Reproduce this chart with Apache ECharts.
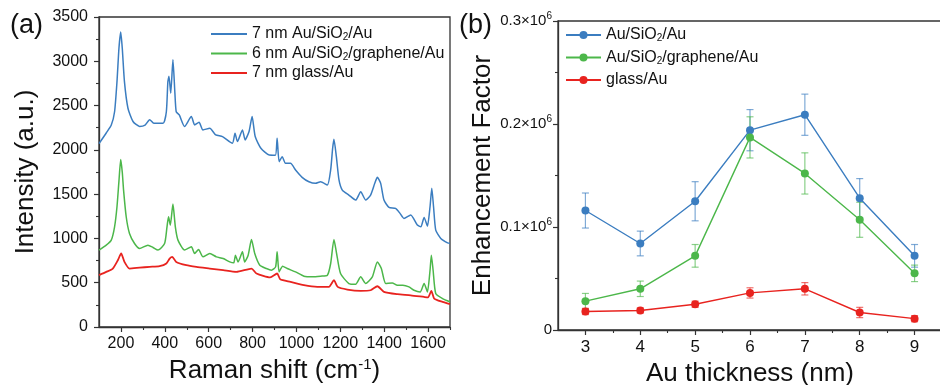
<!DOCTYPE html>
<html><head><meta charset="utf-8">
<script src="https://cdn.jsdelivr.net/npm/echarts@6/dist/echarts.min.js"></script>
<style>html,body{margin:0;padding:0;background:#fff}#c{width:940px;height:385px}</style>
</head><body><div id="c"></div>
<script>
// ---- Panel (a): Raman spectra ----
const seriesNamesA = ['7 nm Au/SiO2/Au', '6 nm Au/SiO2/graphene/Au', '7 nm glass/Au'];
const blueShift = [100,133,156,171,182,191,199,206,216,232,255,285,310,331,350,392,407,414,419,427,437,446,452,466,490,521,536,556,574,605,632,663,708,720,731,754,766,784,798,812,838,876,904,912,921,935,950,973,996,1026,1057,1087,1110,1141,1156,1165,1171,1182,1194,1209,1239,1270,1293,1316,1338,1357,1369,1384,1399,1422,1452,1472,1490,1521,1551,1567,1582,1597,1609,1617,1625,1635,1658,1689,1700];
const blueIntensity = [2070,2190,2280,2430,2770,3150,3330,3150,2770,2470,2320,2265,2280,2340,2300,2300,2430,2770,2830,2640,3017,2640,2430,2394,2263,2376,2282,2312,2225,2244,2169,2150,2075,2188,2094,2225,2112,2207,2376,2150,2018,1942,1940,2131,1867,1923,1848,1848,1773,1690,1640,1622,1640,1603,1773,2018,2120,1923,1660,1546,1490,1433,1527,1433,1490,1622,1690,1622,1433,1350,1339,1283,1226,1264,1151,1131,1237,1139,1358,1566,1358,1094,1000,950,945];
const greenShift = [100,133,156,171,182,191,199,206,212,224,239,262,285,323,346,369,399,410,417,425,437,448,460,490,521,536,554,574,605,635,666,696,714,722,734,754,764,780,795,810,833,863,886,905,912,921,937,958,996,1034,1072,1110,1141,1156,1171,1183,1201,1239,1270,1293,1316,1346,1369,1387,1407,1437,1460,1485,1513,1536,1564,1582,1597,1609,1615,1623,1635,1666,1700];
const greenIntensity = [868,924,981,1131,1358,1650,1890,1750,1546,1245,1056,943,887,924,898,868,943,1131,1245,1150,1388,1131,981,868,905,830,875,792,830,792,773,735,724,811,735,849,735,811,988,830,698,660,641,679,849,622,687,660,622,574,566,574,585,717,988,830,604,491,483,566,491,566,735,660,491,498,472,472,453,415,396,491,396,641,811,641,378,321,285];
const redShift = [100,133,163,186,201,216,239,285,331,376,407,422,434,452,498,544,605,666,726,795,818,880,912,926,973,1034,1095,1148,1171,1188,1232,1293,1338,1369,1399,1460,1521,1582,1600,1615,1628,1666,1700];
const redIntensity = [585,622,660,754,830,735,660,670,679,687,717,773,792,735,698,679,660,641,622,660,604,560,604,540,510,472,453,453,528,453,423,408,415,460,396,370,358,339,334,408,321,283,257];
const ramanMajorTicks = [200,400,600,800,1000,1200,1400,1600];
const ramanMinorTicks = [300,500,700,900,1100,1300,1500,1700];

// ---- Panel (b): Enhancement factor ----
const seriesNamesB = ['Au/SiO2/Au', 'Au/SiO2/graphene/Au', 'glass/Au'];
const thickness = [3,4,5,6,7,8,9];
const efAuSiO2Au = [116000,84000,125000,194000,209000,128000,72000];
const errAuSiO2Au = [17000,12000,19000,20000,20000,19000,11000];
const efGraphene = [28000,40000,72000,187000,152000,107000,55000];
const errGraphene = [7500,7500,11000,20000,20000,17000,8000];
const efGlass = [18000,19000,25000,36000,40000,17000,11000];
const errGlass = [3000,2500,3000,5000,6000,5000,3000];
const thicknessMajorTicks = [3,4,5,6,7,8,9];
const thicknessMinorTicks = [3.5,4.5,5.5,6.5,7.5,8.5];

const colors = ['#3b7dc0', '#4cb74a', '#e8231f'];
const errColors = ['rgba(59,125,192,0.65)', 'rgba(76,183,74,0.65)', 'rgba(232,35,31,0.65)'];
const zip = (a, b) => a.map((v, i) => [v, b[i]]);
const zip3 = (a, b, c) => a.map((v, i) => [v, b[i], c[i]]);

const FONT = '"Liberation Sans", Arial, sans-serif';
const AX = '#333';
const subFmt = n => n.replace('SiO2', 'SiO{sub|2}');
const legendRich = { sub: { fontSize: 10, fontFamily: FONT, color: '#111', padding: [7, 0, 0, 0] } };

function errRender(ci) {
  return function (params, api) {
    const x = api.value(0), y = api.value(1), e = api.value(2);
    const t = api.coord([x, y + e]), b = api.coord([x, y - e]);
    const w = 3.5;
    const st = { stroke: errColors[ci], lineWidth: 1.2 };
    return { type: 'group', children: [
      { type: 'line', shape: { x1: t[0], y1: t[1], x2: b[0], y2: b[1] }, style: st },
      { type: 'line', shape: { x1: t[0] - w, y1: t[1], x2: t[0] + w, y2: t[1] }, style: st },
      { type: 'line', shape: { x1: b[0] - w, y1: b[1], x2: b[0] + w, y2: b[1] }, style: st }
    ]};
  };
}

const chart = echarts.init(document.getElementById('c'), null, { renderer: 'canvas' });
const axLine = { show: true, onZero: false, lineStyle: { color: AX, width: 1.3 } };
const plain = v => String(v);
const option = {
  animation: false,
  textStyle: { fontFamily: FONT },
  graphic: [
    { type: 'text', left: 10, top: 12, style: { text: '(a)', font: '27px ' + FONT, fill: '#111' } },
    { type: 'text', left: 459, top: 12, style: { text: '(b)', font: '27px ' + FONT, fill: '#111' } }
  ],
  grid: [
    { left: 99, top: 17, width: 351, height: 310, show: true, borderColor: AX, borderWidth: 1.3, containLabel: false, outerBoundsMode: 'none' },
    { left: 558, top: 21, width: 384, height: 309, show: true, borderColor: AX, borderWidth: 1.3, containLabel: false, outerBoundsMode: 'none' }
  ],
  legend: [
    { orient: 'vertical', left: 211, top: 26, padding: 0, itemWidth: 36, itemHeight: 2, itemGap: 3, icon: 'rect',
      data: seriesNamesA, formatter: subFmt,
      textStyle: { fontSize: 16, color: '#111', fontFamily: FONT, rich: legendRich } },
    { orient: 'vertical', left: 565, top: 27, padding: 0, itemWidth: 35, itemHeight: 10, itemGap: 6,
      data: seriesNamesB, formatter: subFmt,
      textStyle: { fontSize: 16, color: '#111', fontFamily: FONT, rich: legendRich } }
  ],
  xAxis: [
    { type: 'value', gridIndex: 0, min: 100, max: 1700,
      name: 'Raman shift (cm{sup|-1})', nameLocation: 'middle', nameGap: 28,
      nameTextStyle: { fontSize: 26, color: '#111', fontFamily: FONT, rich: { sup: { fontSize: 15, padding: [0, 0, 12, 0], fontFamily: FONT, color: '#111' } } },
      axisLine: axLine, splitLine: { show: false },
      axisTick: { show: true, length: 5, lineStyle: { color: AX, width: 1.2 }, customValues: ramanMajorTicks },
      axisLabel: { fontSize: 16, color: '#111', margin: 9, formatter: plain, customValues: ramanMajorTicks } },
    { type: 'value', gridIndex: 0, min: 100, max: 1700, position: 'bottom',
      axisLine: { show: false }, splitLine: { show: false }, axisLabel: { show: false },
      axisTick: { show: true, length: 3, lineStyle: { color: AX, width: 1.1 }, customValues: ramanMinorTicks } },
    { type: 'value', gridIndex: 1, min: 2.5, max: 9.5,
      name: 'Au thickness (nm)', nameLocation: 'middle', nameGap: 30,
      nameTextStyle: { fontSize: 26, color: '#111', fontFamily: FONT },
      axisLine: axLine, splitLine: { show: false },
      axisTick: { show: true, length: 5, lineStyle: { color: AX, width: 1.2 }, customValues: thicknessMajorTicks },
      axisLabel: { fontSize: 17, color: '#111', margin: 9, formatter: plain, customValues: thicknessMajorTicks } },
    { type: 'value', gridIndex: 1, min: 2.5, max: 9.5, position: 'bottom',
      axisLine: { show: false }, splitLine: { show: false }, axisLabel: { show: false },
      axisTick: { show: true, length: 3, lineStyle: { color: AX, width: 1.1 }, customValues: thicknessMinorTicks } }
  ],
  yAxis: [
    { type: 'value', gridIndex: 0, min: 0, max: 3500, interval: 500,
      name: 'Intensity (a.u.)', nameLocation: 'middle', nameGap: 60, nameRotate: 90,
      nameTextStyle: { fontSize: 26, color: '#111', fontFamily: FONT },
      axisLine: axLine, splitLine: { show: false },
      axisTick: { show: true, length: 5, lineStyle: { color: AX, width: 1.2 } },
      minorTick: { show: true, splitNumber: 2, length: 3, lineStyle: { color: AX, width: 1.1 } },
      axisLabel: { fontSize: 16, color: '#111', margin: 11, formatter: plain } },
    { type: 'value', gridIndex: 1, min: 0, max: 300000, interval: 100000,
      name: 'Enhancement Factor', nameLocation: 'middle', nameGap: 62, nameRotate: 90,
      nameTextStyle: { fontSize: 26, color: '#111', fontFamily: FONT },
      axisLine: axLine, splitLine: { show: false },
      axisTick: { show: true, length: 5, lineStyle: { color: AX, width: 1.2 } },
      minorTick: { show: true, splitNumber: 2, length: 3, lineStyle: { color: AX, width: 1.1 } },
      axisLabel: { fontSize: 15, color: '#111', margin: 6,
        formatter: v => v === 0 ? '0' : (v / 1e6).toFixed(1) + '×10{s|6}',
        rich: { s: { fontSize: 10, padding: [0, 0, 9, 0], color: '#111', fontFamily: FONT } } } }
  ],
  series: [
    { name: seriesNamesA[0], type: 'line', xAxisIndex: 0, yAxisIndex: 0, data: zip(blueShift, blueIntensity),
      symbol: 'none', smooth: 0.2, color: colors[0], lineStyle: { width: 1.5, color: colors[0] } },
    { name: seriesNamesA[1], type: 'line', xAxisIndex: 0, yAxisIndex: 0, data: zip(greenShift, greenIntensity),
      symbol: 'none', smooth: 0.2, color: colors[1], lineStyle: { width: 1.5, color: colors[1] } },
    { name: seriesNamesA[2], type: 'line', xAxisIndex: 0, yAxisIndex: 0, data: zip(redShift, redIntensity),
      symbol: 'none', smooth: 0.2, color: colors[2], lineStyle: { width: 1.8, color: colors[2] } },

    { type: 'custom', xAxisIndex: 2, yAxisIndex: 1, renderItem: errRender(0), data: zip3(thickness, efAuSiO2Au, errAuSiO2Au), encode: { x: 0, y: 1 }, z: 1 },
    { type: 'custom', xAxisIndex: 2, yAxisIndex: 1, renderItem: errRender(1), data: zip3(thickness, efGraphene, errGraphene), encode: { x: 0, y: 1 }, z: 1 },
    { type: 'custom', xAxisIndex: 2, yAxisIndex: 1, renderItem: errRender(2), data: zip3(thickness, efGlass, errGlass), encode: { x: 0, y: 1 }, z: 1 },

    { name: seriesNamesB[0], type: 'line', xAxisIndex: 2, yAxisIndex: 1, data: zip(thickness, efAuSiO2Au),
      symbol: 'circle', symbolSize: 8, color: colors[0], lineStyle: { width: 1.4, color: colors[0] }, z: 3 },
    { name: seriesNamesB[1], type: 'line', xAxisIndex: 2, yAxisIndex: 1, data: zip(thickness, efGraphene),
      symbol: 'circle', symbolSize: 8, color: colors[1], lineStyle: { width: 1.4, color: colors[1] }, z: 3 },
    { name: seriesNamesB[2], type: 'line', xAxisIndex: 2, yAxisIndex: 1, data: zip(thickness, efGlass),
      symbol: 'circle', symbolSize: 8, color: colors[2], lineStyle: { width: 1.4, color: colors[2] }, z: 3 }
  ]
};
chart.setOption(option);
</script>
</body></html>
